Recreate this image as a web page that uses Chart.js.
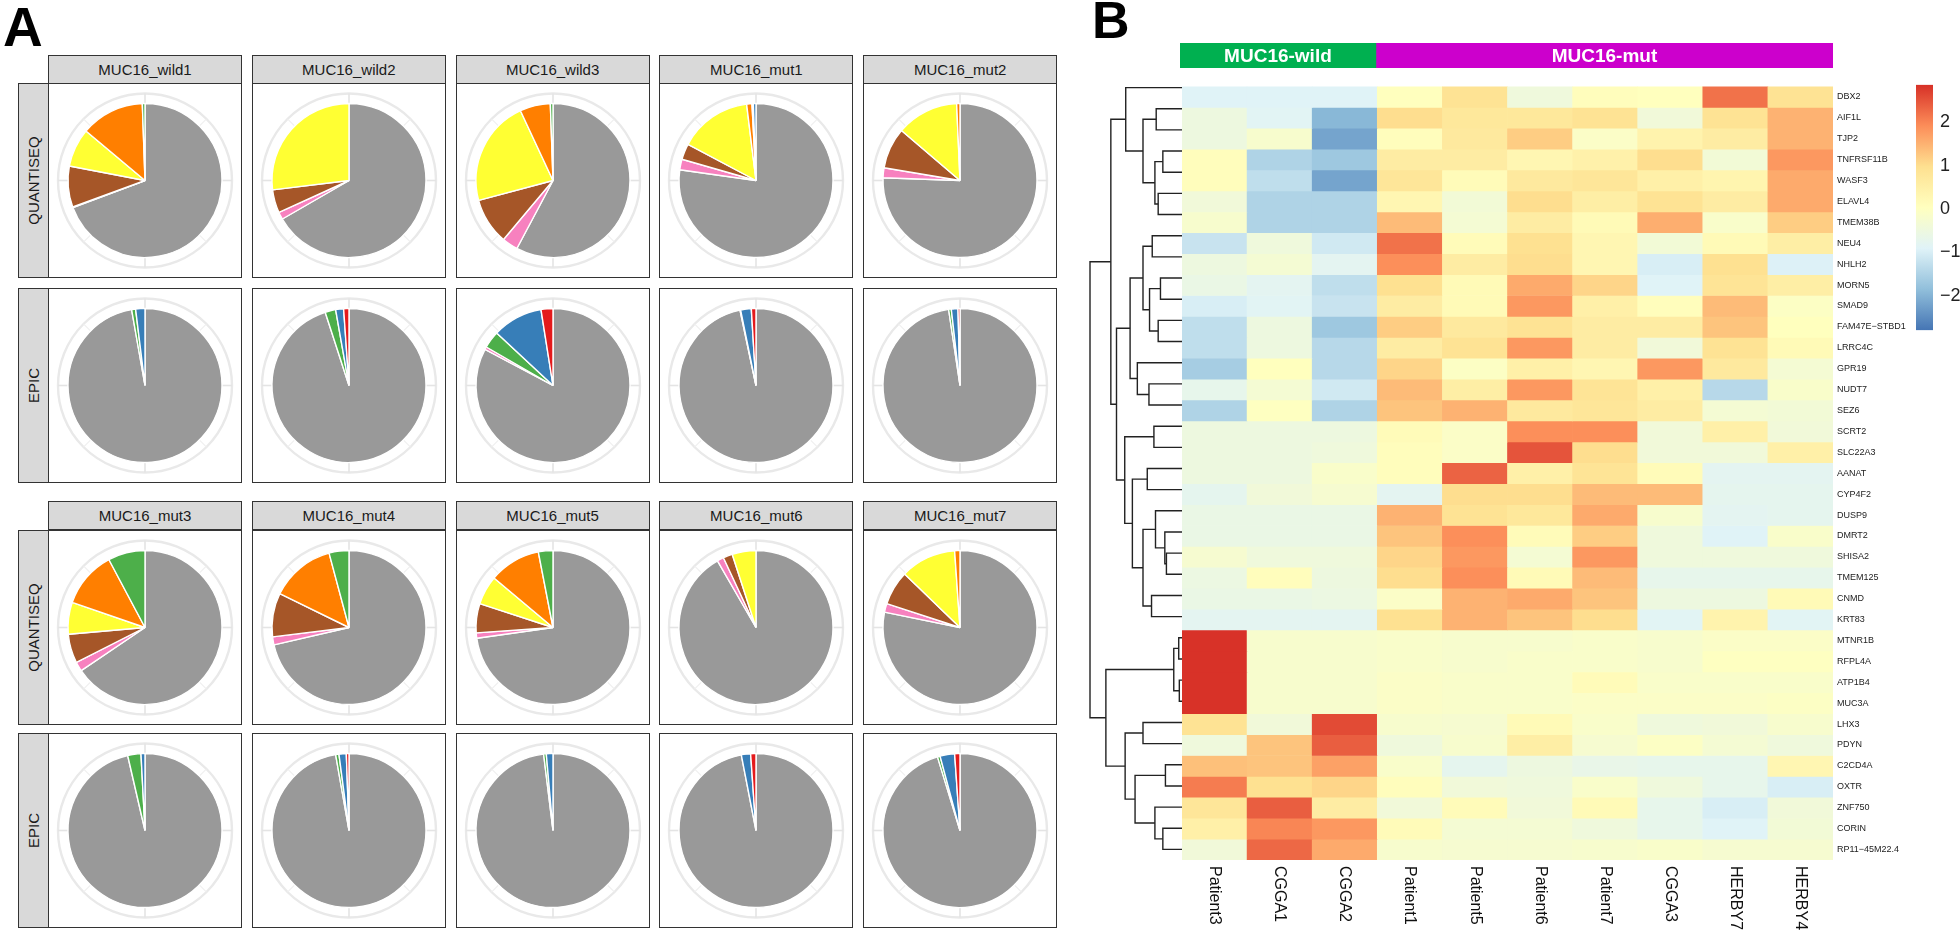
<!DOCTYPE html>
<html>
<head>
<meta charset="utf-8">
<title>Immune infiltration pies and MUC16 heatmap</title>
<script src="https://cdn.jsdelivr.net/npm/chart.js@4.4.1/dist/chart.umd.min.js"></script>
<style>
  body { margin: 0; background: #fff; font-family: "Liberation Sans", Arial, sans-serif; }
  #page { position: relative; width: 1960px; height: 938px; overflow: hidden; background: #fff; }
  .box { position: absolute; box-sizing: border-box; }
  .strip { background: #d9d9d9; border: 1px solid #333; display: flex; align-items: center; justify-content: center; font-size: 15px; color: #1a1a1a; }
  .strip span { display: block; white-space: nowrap; }
  .vstrip span { transform: rotate(-90deg); }
  .panel { border: 1px solid #333; background: #fff; }
  .panel canvas { position: absolute; left: 0; top: 0; }
  .tag { position: absolute; font-weight: bold; line-height: 1; color: #000; }
  canvas.free { position: absolute; }
</style>
</head>
<body>
<div id="page"></div>
<script>
// ---- panel A data ----
const cellTypes = ["uncharacterized cell", "T cell regulatory", "T cell CD8+", "T cell CD4+", "NK cell", "Macrophage", "Endothelial cell", "B cell"];
const cellColors = ["#999999", "#F781BF", "#A65628", "#FFFF33", "#FF7F00", "#4DAF4A", "#377EB8", "#E41A1C"];
const samples = ["MUC16_wild1", "MUC16_wild2", "MUC16_wild3", "MUC16_mut1", "MUC16_mut2",
                 "MUC16_mut3", "MUC16_mut4", "MUC16_mut5", "MUC16_mut6", "MUC16_mut7"];
const methods = ["QUANTISEQ", "EPIC"];

// shares per sample, same order as cellTypes (clockwise from 12 o'clock)
const quantiseqShares = [
  [249, 0.5, 31, 29, 48, 2, 0, 0],
  [240, 5.5, 17.5, 97, 0, 0, 0, 0],
  [208, 12, 35, 80, 23, 2, 0, 0],
  [278, 8, 12, 55, 4, 1, 2, 0],
  [272, 7.5, 31, 47, 2.5, 0, 0, 0],
  [236, 7, 22, 24, 43, 28, 0, 0],
  [257, 6, 33, 0, 49, 15, 0, 0],
  [262, 4, 22, 22, 39, 11, 0, 0],
  [330, 5, 7, 18, 0, 0, 0, 0],
  [281.5, 6.5, 26, 42, 4, 0, 0, 0]
];
const epicShares = [
  [350, 0, 0, 0, 0, 3, 7, 0],
  [342, 0, 0, 0, 0, 8, 6, 4],
  [298, 2, 0, 0, 0, 13, 38, 9],
  [348, 0, 0, 0, 0, 0.5, 8, 3.5],
  [351.5, 0, 0, 0, 0, 2, 5, 1.5],
  [347, 0, 0, 0, 0, 10, 3, 0],
  [350, 0, 0, 0, 0, 2.5, 5.5, 2],
  [353, 0, 0, 0, 0, 2, 5, 0],
  [349, 0, 0, 0, 0, 0, 7, 4],
  [343, 0, 0, 0, 0, 2, 11, 4]
];

// ---- panel B data ----
const heatColumns = ["Patient3", "CGGA1", "CGGA2", "Patient1", "Patient5", "Patient6", "Patient7", "CGGA3", "HERBY7", "HERBY4"];
const columnGroups = ["MUC16-wild", "MUC16-wild", "MUC16-wild", "MUC16-mut", "MUC16-mut", "MUC16-mut", "MUC16-mut", "MUC16-mut", "MUC16-mut", "MUC16-mut"];
const groupColors = { "MUC16-wild": "#00B050", "MUC16-mut": "#CC00CC" };
const geneNames = ["DBX2", "AIF1L", "TJP2", "TNFRSF11B", "WASF3", "ELAVL4", "TMEM38B", "NEU4", "NHLH2", "MORN5",
  "SMAD9", "FAM47E\u2212STBD1", "LRRC4C", "GPR19", "NUDT7", "SEZ6", "SCRT2", "SLC22A3", "AANAT", "CYP4F2",
  "DUSP9", "DMRT2", "SHISA2", "TMEM125", "CNMD", "KRT83", "MTNR1B", "RFPL4A", "ATP1B4", "MUC3A",
  "LHX3", "PDYN", "C2CD4A", "OXTR", "ZNF750", "CORIN", "RP11\u221245M22.4"];
const zScores = [
  [-0.9, -0.9, -0.9, 0.05, 0.9, -0.45, 0.1, 0.05, 2.2, 0.9],
  [-0.5, -0.85, -1.95, 1.0, 0.75, 0.75, 0.9, -0.4, 0.9, 1.5],
  [-0.5, -0.2, -2.2, 0.1, 0.7, 1.2, -0.1, 0.4, 0.6, 1.5],
  [0.1, -1.5, -1.7, 0.6, 0.6, 0.3, 0.45, 1.0, -0.35, 1.8],
  [0.1, -1.3, -2.2, 0.8, 0.15, 0.7, 0.8, 0.5, 0.35, 1.6],
  [-0.4, -1.5, -1.5, 0.3, -0.35, 1.0, 0.55, 0.9, 0.6, 1.6],
  [-0.2, -1.5, -1.5, 1.4, -0.3, 0.6, 0.2, 1.55, -0.15, 1.2],
  [-1.2, -0.45, -1.1, 2.2, 0.15, 0.95, 0.3, -0.35, 0.2, 0.55],
  [-0.5, -0.3, -0.8, 1.9, 0.6, 1.0, 0.3, -1.0, 0.95, -0.95],
  [-0.6, -0.8, -1.3, 0.95, 0.2, 1.6, 1.1, -0.9, 0.85, 0.55],
  [-1.0, -0.85, -1.2, 0.6, 0.2, 1.8, 0.5, 0.1, 1.4, -0.05],
  [-1.3, -0.5, -1.7, 1.2, 0.7, 0.9, 0.6, 0.6, 1.3, 0.05],
  [-1.3, -0.5, -1.4, 0.6, 0.9, 1.8, 0.6, -0.4, 0.9, 0.2],
  [-1.6, 0.05, -1.4, 1.1, -0.05, 0.5, 0.3, 1.8, 0.7, -0.3],
  [-0.7, -0.3, -1.1, 1.4, 0.55, 1.8, 0.85, 0.5, -1.4, -0.15],
  [-1.5, 0.0, -1.5, 1.3, 1.5, 0.7, 0.8, 0.6, -0.3, -0.35],
  [-0.5, -0.5, -0.5, 0.15, -0.1, 1.9, 1.9, -0.4, 0.5, -0.4],
  [-0.5, -0.5, -0.45, 0.1, -0.1, 2.5, 1.0, -0.4, -0.4, 0.5],
  [-0.5, -0.5, -0.15, 0.1, 2.35, 0.5, 0.85, 0.15, -0.8, -0.8],
  [-0.75, -0.4, -0.25, -0.8, 1.0, 1.0, 1.4, 1.4, -0.75, -0.75],
  [-0.6, -0.6, -0.6, 1.5, 0.9, 0.75, 1.6, -0.2, -0.8, -0.75],
  [-0.6, -0.6, -0.6, 1.3, 1.9, 0.15, 1.2, -0.45, -0.9, -0.15],
  [-0.25, -0.45, -0.45, 1.1, 1.8, -0.3, 1.8, -0.45, -0.45, -0.45],
  [-0.55, 0.1, -0.5, 1.0, 1.9, 0.2, 1.4, -0.7, -0.7, -0.7],
  [-0.6, -0.6, -0.55, -0.1, 1.5, 1.6, 1.3, -0.5, -0.5, 0.2],
  [-0.8, -0.8, -0.8, 0.95, 1.5, 1.3, 1.0, -0.85, 0.4, -0.85],
  [2.85, -0.2, -0.2, -0.15, -0.2, -0.2, -0.15, -0.2, -0.1, -0.1],
  [2.85, -0.2, -0.2, -0.15, -0.2, -0.15, -0.15, -0.2, 0.0, 0.0],
  [2.85, -0.2, -0.2, -0.1, -0.15, -0.15, 0.15, -0.15, -0.15, -0.15],
  [2.85, -0.2, -0.2, -0.1, -0.15, -0.15, -0.1, -0.1, -0.1, -0.05],
  [0.9, -0.4, 2.6, -0.2, -0.25, 0.2, -0.15, -0.45, -0.4, -0.2],
  [-0.45, 1.3, 2.4, -0.45, -0.2, 0.55, -0.25, -0.05, -0.3, -0.45],
  [1.35, 1.3, 1.7, -0.15, -0.75, -0.5, -0.65, -0.7, -0.7, 0.3],
  [2.1, 0.95, 1.1, 0.1, -0.4, -0.45, -0.15, -0.45, -0.7, -1.0],
  [0.8, 2.4, 0.6, -0.4, 0.15, -0.4, 0.2, -0.7, -1.0, -0.4],
  [0.5, 2.0, 1.8, 0.15, -0.3, -0.3, -0.45, -0.7, -0.9, -0.35],
  [-0.4, 2.3, 1.6, -0.2, -0.25, -0.25, -0.2, -0.15, -0.25, -0.25]
];
// row dendrogram: [left, right, height]; numbers are gene rows, "mN" is merge N
const dendroMerges = [
  [1, 2, 26.0], [3, 4, 19.3], [5, 6, 24.0], ["m1", "m2", 27.3], ["m0", "m3", 39.3],
  [0, "m4", 56.7], [7, 8, 30.0], [9, 10, 21.7], [11, 12, 24.0], ["m7", "m8", 32.7],
  ["m6", "m9", 39.3], [14, 15, 33.3], [13, "m11", 45.0], ["m10", "m12", 52.3], [16, 17, 28.3],
  [18, 19, 35.0], [22, 23, 15.7], [21, "m16", 17.3], [20, "m17", 26.7], [24, 25, 30.7],
  ["m18", "m19", 39.3], ["m15", "m20", 50.0], ["m14", "m21", 57.7], ["m13", "m22", 66.0], ["m5", "m23", 71.7],
  [26, 27, 3.3], [28, 29, 2.7], ["m25", "m26", 8.3], [30, 31, 39.3], [32, 33, 16.7],
  [35, 36, 19.3], [34, "m30", 27.3], ["m29", "m31", 47.3], ["m28", "m32", 57.3], ["m27", "m33", 76.7],
  ["m24", "m34", 92.7]
];
const legendMin = -2.8;
const legendMax = 2.87;
const legendTicks = [2, 1, 0, -1, -2];
const heatPalette = ["#4575B4", "#91BFDB", "#E0F3F8", "#FFFFBF", "#FEE090", "#FC8D59", "#D73027"];

// ---- layout ----
const FONT = '"Liberation Sans", Arial, sans-serif';
Chart.defaults.font.family = FONT;
const page = document.getElementById("page");
const panelLeft0 = 48, panelStep = 203.8, panelW = 194, panelH = 195;
const stripTops = [55, 501], stripH = 29;
const rowTops = [[83, 288], [530, 733]];
const pieRadius = 77, ringRadius = 87;

function addBox(cls, left, top, w, h, html) {
  const d = document.createElement("div");
  d.className = "box " + cls;
  Object.assign(d.style, { left: left + "px", top: top + "px", width: w + "px", height: h + "px" });
  if (html !== undefined) d.innerHTML = html;
  page.appendChild(d);
  return d;
}
function addCanvas(parent, left, top, w, h) {
  const c = document.createElement("canvas");
  c.width = w; c.height = h;
  c.className = "free";
  Object.assign(c.style, { left: left + "px", top: top + "px", width: w + "px", height: h + "px" });
  parent.appendChild(c);
  return c;
}
function addTag(text, left, top, size) {
  const d = document.createElement("div");
  d.className = "tag";
  d.textContent = text;
  Object.assign(d.style, { left: left + "px", top: top + "px", fontSize: size + "px" });
  page.appendChild(d);
}

addTag("A", 3, 0, 55);
addTag("B", 1092, -6, 52);

// polar background: outer circle and spokes like ggplot coord_polar
const polarGrid = {
  id: "polarGrid",
  beforeDatasetsDraw(chart) {
    const { ctx, chartArea } = chart;
    const cx = (chartArea.left + chartArea.right) / 2;
    const cy = (chartArea.top + chartArea.bottom) / 2;
    ctx.save();
    ctx.strokeStyle = "#e9e9e9";
    ctx.lineWidth = 2.4;
    ctx.beginPath();
    ctx.arc(cx, cy, ringRadius, 0, Math.PI * 2);
    ctx.stroke();
    for (let k = 0; k < 8; k++) {
      const a = k * Math.PI / 4;
      ctx.lineWidth = k % 2 === 0 ? 1.6 : 1.1;
      ctx.strokeStyle = k % 2 === 0 ? "#e4e4e4" : "#efefef";
      ctx.beginPath();
      ctx.moveTo(cx + Math.cos(a) * (pieRadius - 2), cy + Math.sin(a) * (pieRadius - 2));
      ctx.lineTo(cx + Math.cos(a) * ringRadius, cy + Math.sin(a) * ringRadius);
      ctx.stroke();
    }
    ctx.restore();
  }
};

samples.forEach((name, i) => {
  const g = Math.floor(i / 5), c = i % 5;
  const left = panelLeft0 + c * panelStep;
  addBox("strip", left, stripTops[g], panelW, stripH, "<span>" + name + "</span>");
  methods.forEach((m, j) => {
    const panel = addBox("panel", left, rowTops[g][j], panelW, panelH);
    const cv = document.createElement("canvas");
    cv.width = panelW - 2; cv.height = panelH - 2;
    panel.appendChild(cv);
    new Chart(cv, {
      type: "pie",
      data: {
        labels: cellTypes,
        datasets: [{
          data: (j === 0 ? quantiseqShares : epicShares)[i],
          backgroundColor: cellColors,
          borderColor: "#ffffff",
          borderWidth: 1.4,
          radius: pieRadius
        }]
      },
      options: {
        responsive: false,
        animation: false,
        plugins: { legend: { display: false }, tooltip: { enabled: false } }
      },
      plugins: [polarGrid]
    });
  });
});
[0, 1].forEach(g => methods.forEach((m, j) => {
  addBox("strip vstrip", 18, rowTops[g][j], 31, panelH, "<span>" + m + "</span>");
}));

// ---- panel B ----
function hexToRgb(h) { return [1, 3, 5].map(k => parseInt(h.substr(k, 2), 16)); }
function heatColor(v) {
  const t = Math.min(Math.max((v - legendMin) / (legendMax - legendMin), 0), 1) * (heatPalette.length - 1);
  const k = Math.min(Math.floor(t), heatPalette.length - 2);
  const f = t - k;
  const a = hexToRgb(heatPalette[k]), b = hexToRgb(heatPalette[k + 1]);
  const rgb = a.map((x, n) => Math.round(x + (b[n] - x) * f));
  return "rgb(" + rgb.join(",") + ")";
}

const heatLeft = 1182, heatTop = 77, heatW = 651, heatH = 783;

// column group annotation bar
const groupOrder = [];
const groupCounts = {};
columnGroups.forEach(gname => {
  if (!(gname in groupCounts)) { groupOrder.push(gname); groupCounts[gname] = 0; }
  groupCounts[gname]++;
});
const groupLabels = {
  id: "groupLabels",
  afterDatasetsDraw(chart) {
    const { ctx } = chart;
    ctx.save();
    ctx.font = "bold 19px " + FONT;
    ctx.fillStyle = "#ffffff";
    ctx.textAlign = "center";
    ctx.textBaseline = "middle";
    chart.data.datasets.forEach((ds, i) => {
      const bar = chart.getDatasetMeta(i).data[0];
      ctx.fillText(ds.label, (bar.x + bar.base) / 2, bar.y + 1);
    });
    ctx.restore();
  }
};
new Chart(addCanvas(page, heatLeft - 2, 43, heatW + 2, 25), {
  type: "bar",
  data: {
    labels: ["group"],
    datasets: groupOrder.map(gname => ({
      label: gname,
      data: [groupCounts[gname]],
      backgroundColor: groupColors[gname],
      borderWidth: 0,
      barPercentage: 1,
      categoryPercentage: 1
    }))
  },
  options: {
    indexAxis: "y",
    responsive: false,
    animation: false,
    layout: { padding: 0 },
    plugins: { legend: { display: false }, tooltip: { enabled: false } },
    scales: {
      x: { stacked: true, display: false, min: 0, max: heatColumns.length },
      y: { stacked: true, display: false }
    }
  },
  plugins: [groupLabels]
});

// heatmap cells as stacked unit bars, coloured by z-score
const columnLabels = {
  id: "columnLabels",
  afterDraw(chart) {
    const { ctx, chartArea } = chart;
    const x = chart.scales.x;
    ctx.save();
    ctx.font = "16px " + FONT;
    ctx.fillStyle = "#111";
    ctx.textAlign = "left";
    ctx.textBaseline = "middle";
    heatColumns.forEach((c, i) => {
      ctx.save();
      ctx.translate(x.getPixelForValue(i), chartArea.bottom + 6);
      ctx.rotate(Math.PI / 2);
      ctx.fillText(c, 0, 0);
      ctx.restore();
    });
    ctx.restore();
  }
};
new Chart(addCanvas(page, heatLeft, heatTop, 1960 - heatLeft, 938 - heatTop), {
  type: "bar",
  data: {
    labels: heatColumns,
    datasets: geneNames.map((gene, r) => ({
      label: gene,
      data: heatColumns.map(() => 1),
      backgroundColor: zScores[r].map(heatColor),
      borderWidth: 0,
      barPercentage: 1,
      categoryPercentage: 1
    }))
  },
  options: {
    responsive: false,
    animation: false,
    layout: { padding: { bottom: 938 - heatTop - heatH } },
    plugins: { legend: { display: false }, tooltip: { enabled: false } },
    scales: {
      x: { stacked: true, display: false },
      y: { stacked: true, display: false, reverse: true, min: 0, max: geneNames.length },
      genes: {
        axis: "y",
        type: "category",
        labels: geneNames,
        position: "right",
        offset: true,
        grid: { display: false, drawTicks: false },
        border: { display: false },
        ticks: { autoSkip: false, maxRotation: 0, padding: 4, color: "#222", font: { size: 9 } },
        afterFit(scale) { scale.width = 1960 - heatLeft - heatW; }
      }
    }
  },
  plugins: [columnLabels]
});

// row dendrogram
const nodes = [];
function nodePos(ref) {
  if (typeof ref === "number") return { h: 0, y: ref + 0.5 };
  return nodes[parseInt(ref.slice(1), 10)];
}
const dendroSets = dendroMerges.map(([a, b, h]) => {
  const pa = nodePos(a), pb = nodePos(b);
  nodes.push({ h: h, y: (pa.y + pb.y) / 2 });
  return {
    data: [{ x: pa.h, y: pa.y }, { x: h, y: pa.y }, { x: h, y: pb.y }, { x: pb.h, y: pb.y }],
    showLine: true,
    borderColor: "#222",
    borderWidth: 1.4,
    pointRadius: 0,
    fill: false,
    clip: false
  };
});
new Chart(addCanvas(page, 1086, heatTop, 100, heatH), {
  type: "scatter",
  data: { datasets: dendroSets },
  options: {
    responsive: false,
    animation: false,
    layout: { padding: { left: 4, right: 4 } },
    plugins: { legend: { display: false }, tooltip: { enabled: false } },
    scales: {
      x: { type: "linear", display: false, reverse: true, min: 0, max: dendroMerges[dendroMerges.length - 1][2] },
      y: { type: "linear", display: false, reverse: true, min: 0, max: geneNames.length }
    }
  }
});

// colour key
new Chart(addCanvas(page, 1910, 67, 50, 281), {
  type: "bar",
  data: {
    labels: ["key"],
    datasets: [{
      data: [[legendMin, legendMax]],
      barPercentage: 1,
      categoryPercentage: 1,
      borderWidth: 0,
      backgroundColor(context) {
        const chart = context.chart;
        const area = chart.chartArea;
        if (!area) return heatPalette[3];
        const y = chart.scales.y;
        const grad = chart.ctx.createLinearGradient(0, y.getPixelForValue(legendMin), 0, y.getPixelForValue(legendMax));
        heatPalette.forEach((col, k) => grad.addColorStop(k / (heatPalette.length - 1), col));
        return grad;
      }
    }]
  },
  options: {
    responsive: false,
    animation: false,
    layout: { padding: { left: 6, top: 10, bottom: 10 } },
    plugins: { legend: { display: false }, tooltip: { enabled: false } },
    scales: {
      x: { display: false },
      y: {
        position: "right",
        min: legendMin,
        max: legendMax,
        grid: { display: false, drawTicks: false },
        border: { display: false },
        afterBuildTicks(scale) { scale.ticks = legendTicks.map(v => ({ value: v })); },
        afterFit(scale) { scale.width = 27; },
        ticks: {
          padding: 7,
          color: "#222",
          font: { size: 18 },
          callback: v => (v < 0 ? "\u2212" + Math.abs(v) : String(v))
        }
      }
    }
  }
});
</script>
</body>
</html>
